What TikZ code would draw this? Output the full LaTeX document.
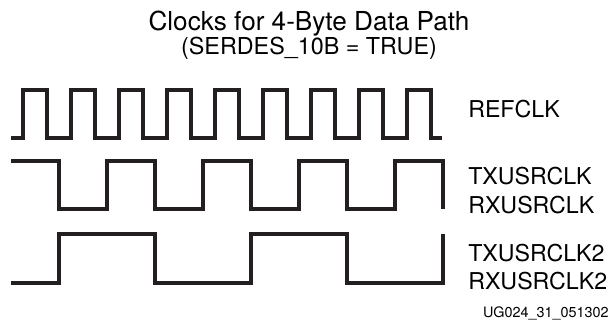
\documentclass[tikz,border=0pt]{standalone}
\usepackage{fontspec}
\setmainfont{TeX Gyre Heros}
\usetikzlibrary{positioning}
\definecolor{WaveBlack}{RGB}{35,31,32}
\tikzset{
  wave/.style={draw=WaveBlack,line width=2.3pt,line join=miter,line cap=butt},
  title/.style={font=\fontsize{19.6}{22}\selectfont,inner sep=0pt,anchor=base},
  subtitle/.style={font=\fontsize{17.5}{20}\selectfont,inner sep=0pt,anchor=base},
  siglabel/.style={font=\fontsize{17.4}{21}\selectfont,inner sep=0pt,anchor=base west},
  figid/.style={font=\fontsize{10.8}{12}\selectfont,inner sep=0pt,anchor=base east}
}
\begin{document}
\begin{tikzpicture}[x=0.75pt,y=-0.75pt]
      \useasboundingbox (0,0) rectangle (613,322);
      % heading
      \node[title] (head) at (309,30) {Clocks for 4-Byte Data Path};
      \node[subtitle] (cond) at (309,54) {(SERDES\_10B = TRUE)};
      % waveforms
      \draw[wave] (11,138) foreach \k in {0,...,8} {
          -- (23+48*\k,138) -- (23+48*\k,90) -- (47+48*\k,90) -- (47+48*\k,138)}
        -- (442,138);
      \draw[wave] (11,161) foreach \k in {0,...,3} {
          -- (59+96*\k,161) -- (59+96*\k,209) -- (107+96*\k,209) -- (107+96*\k,161)}
        -- (443,161) -- (443,209);
      \draw[wave] (11,283) foreach \k in {0,1} {
          -- (59+192*\k,283) -- (59+192*\k,234) -- (155+192*\k,234) -- (155+192*\k,283)}
        -- (443,283) -- (443,234);
      % signal names
      \node[siglabel] (refclk) at (468,117) {REFCLK};
      \node[siglabel] (txusrclk) at (468,184) {TXUSRCLK};
      \node[siglabel] (rxusrclk) at (468,213) {RXUSRCLK};
      \node[siglabel] (txusrclktwo) at (468,261) {TXUSRCLK2};
      \node[siglabel] (rxusrclktwo) at (468,289) {RXUSRCLK2};
      \node[figid] (figno) at (609,317) {UG024\_31\_051302};
    \end{tikzpicture}
\end{document}
